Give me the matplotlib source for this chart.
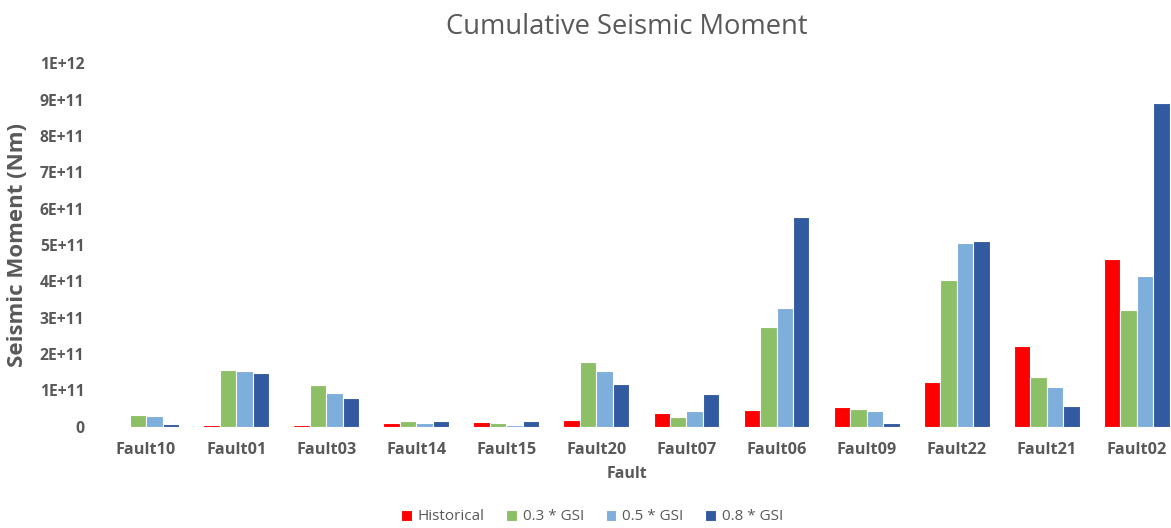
import matplotlib.pyplot as plt
import numpy as np

plt.rcParams['font.family'] = ['Open Sans', 'DejaVu Sans']

FAULTS = ['Fault10', 'Fault01', 'Fault03', 'Fault14', 'Fault15', 'Fault20',
          'Fault07', 'Fault06', 'Fault09', 'Fault22', 'Fault21', 'Fault02']

# seismic moment in Nm
historical = [0.02e11, 0.05e11, 0.04e11, 0.10e11, 0.13e11, 0.18e11,
              0.39e11, 0.46e11, 0.53e11, 1.23e11, 2.23e11, 4.61e11]
gsi_03 = [0.32e11, 1.56e11, 1.14e11, 0.15e11, 0.09e11, 1.78e11,
          0.26e11, 2.75e11, 0.49e11, 4.04e11, 1.38e11, 3.21e11]
gsi_05 = [0.30e11, 1.53e11, 0.93e11, 0.11e11, 0.05e11, 1.54e11,
          0.44e11, 3.26e11, 0.44e11, 5.06e11, 1.10e11, 4.15e11]
gsi_08 = [0.06e11, 1.47e11, 0.78e11, 0.15e11, 0.15e11, 1.17e11,
          0.89e11, 5.78e11, 0.11e11, 5.11e11, 0.57e11, 8.90e11]

SERIES = [
    ('Historical', historical, '#FF0000'),
    ('0.3 * GSI', gsi_03, '#8DC066'),
    ('0.5 * GSI', gsi_05, '#7DAEDC'),
    ('0.8 * GSI', gsi_08, '#325AA0'),
]

Y_TICKS = [0, 1e11, 2e11, 3e11, 4e11, 5e11, 6e11, 7e11, 8e11, 9e11, 1e12]
Y_TICK_LABELS = ['0', '1E+11', '2E+11', '3E+11', '4E+11', '5E+11',
                 '6E+11', '7E+11', '8E+11', '9E+11', '1E+12']

TEXT = '#595959'

fig = plt.figure(figsize=(11.71, 5.28), dpi=100)
ax = fig.add_axes([0.0863, 0.1919, 0.9137, 0.6883])

x = np.arange(len(FAULTS))
bar_w = 0.183
for i, (name, vals, color) in enumerate(SERIES):
    ax.bar(x + (i - 1.5) * bar_w, vals, bar_w, label=name, color=color,
           edgecolor='white', linewidth=0.8)

ax.set_xlim(-0.5, 11.38)
ax.set_ylim(0, 1e12)
ax.set_yticks(Y_TICKS)
ax.set_yticklabels(Y_TICK_LABELS, fontsize=11.3, fontweight='bold', color=TEXT)
ax.set_xticks(x)
ax.set_xticklabels(FAULTS, fontsize=11.7, fontweight='bold', color=TEXT)
ax.tick_params(length=0)
ax.tick_params(axis='y', pad=12)
ax.tick_params(axis='x', pad=11)
for s in ax.spines.values():
    s.set_visible(False)

ax.set_ylabel('Seismic Moment (Nm)', fontsize=16, fontweight='bold', color=TEXT)
ax.yaxis.set_label_coords(-0.068, 0.5)

fig.text(627 / 1171, 1 - 27 / 528, 'Cumulative Seismic Moment', ha='center',
         va='center', fontsize=19.7, color=TEXT)
fig.text(627 / 1171, 1 - 474 / 528, 'Fault', ha='center', va='center',
         fontsize=11.5, fontweight='bold', color=TEXT)

fig.legend(loc='center', bbox_to_anchor=(592 / 1171, 1 - 517 / 528), ncol=4,
           frameon=False, fontsize=11, labelcolor=TEXT, handlelength=0.7,
           handleheight=0.7, handletextpad=0.4, columnspacing=1.4)

fig.savefig('out.png', dpi=100, facecolor='white')
